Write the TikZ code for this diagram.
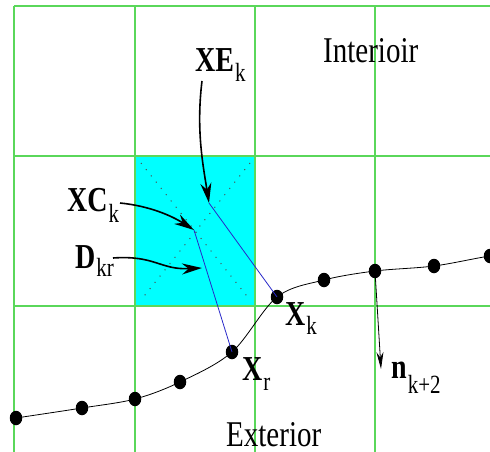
\documentclass[tikz,border=0pt]{standalone}
\usepackage{fontspec}
\setmainfont{Liberation Serif}
\usetikzlibrary{arrows.meta,shapes.geometric}
\newcommand\blbl[3]{\scalebox{1}[1.25]{\fontsize{28}{30}\selectfont\bfseries #1\kern1pt\raisebox{#3}{\fontsize{21}{24}\selectfont\mdseries #2}}}
\newcommand\rlbl[1]{\scalebox{1}[1.25]{\fontsize{29}{32}\selectfont #1}}
\definecolor{gridgreen}{RGB}{90,215,90}
\definecolor{linkblue}{RGB}{40,40,200}
\definecolor{cellcyan}{RGB}{0,255,255}
\tikzset{
  gridline/.style={gridgreen, line width=1.1pt},
  bead/.style={ellipse, fill=black, inner sep=0pt, minimum width=12.5pt, minimum height=14.5pt},
  lbl/.style={inner sep=0pt, anchor=base west},
  bigarrow/.style={line width=1.6pt, -{Stealth[length=20pt,width=11pt]}},
  normarrow/.style={line width=0.8pt, -{Stealth[length=17pt,width=7pt]}},
  blueline/.style={linkblue, line width=0.8pt},
  diag/.style={black!70, line width=1pt, dash pattern=on 1pt off 7pt},
}
\begin{document}
\begin{tikzpicture}[x=1pt,y=-1pt]
\useasboundingbox (0,0) rectangle (490,452);
\begin{scope}
\clip (0,0) rectangle (490,452);
% cyan cell
\fill[cellcyan] (135,156) rectangle (255,306);
\draw[diag] (141,163) -- (250,300);
\draw[diag] (250,163) -- (141,300);
% grid
\foreach \x in {14,135,255,375} \draw[gridline] (\x,6) -- (\x,452);
\foreach \y in {6,156,306} \draw[gridline] (14,\y) -- (490,\y);
% interface curve
\draw[line width=0.8pt] plot[smooth, tension=0.55] coordinates {(16,418) (82,408) (135,399) (180,382) (232,352) (277,297) (324,280) (375,271) (434,266) (490,256) (530,252)};
% beads
\node[bead] (b1) at (16,418) {};
\node[bead] (b2) at (82,408) {};
\node[bead] (b3) at (135,399) {};
\node[bead] (b4) at (180,382) {};
\node[bead] (xr) at (232,352) {};
\node[bead] (xk) at (277,297) {};
\node[bead] (b7) at (324,280) {};
\node[bead] (nk) at (375,271) {};
\node[bead] (b9) at (434,266) {};
\node[bead] (b10) at (490,256) {};
\end{scope}
% points in the cell
\coordinate (xe) at (209,203);
\coordinate (xc) at (194,230);
\coordinate (dd) at (202,268);
\draw[blueline] (xe) -- (xk.center);
\draw[blueline] (xc) -- (xr.center);
% labels
\node[lbl] (lxe) at (195,72) {\blbl{XE}{k}{-8pt}};
\node[lbl] (lxc) at (67,211) {\blbl{XC}{k}{-9pt}};
\node[lbl] (ld) at (75,268) {\blbl{D}{kr}{-7pt}};
\node[lbl] (lxk) at (285,325) {\blbl{X}{k}{-7.5pt}};
\node[lbl] (lxr) at (242,380) {\blbl{X}{r}{-8pt}};
\node[lbl] (ln) at (391,378) {\blbl{n}{k+2}{-12pt}};
\node[lbl] (lint) at (323,63) {\rlbl{Interioir}};
\node[lbl] (lext) at (226,446) {\rlbl{Exterior}};
% arrows
\coordinate (axe) at (202,81);
\coordinate (axc) at (120,203);
\coordinate (ad) at (113,258);
\coordinate (ntip) at (381,369);
\draw[bigarrow] (axe) .. controls (196,130) and (203,165) .. (xe);
\draw[bigarrow] (axc) .. controls (150,206) and (172,216) .. (xc);
\draw[bigarrow] (ad) .. controls (155,255) and (160,270) .. (dd);
\draw[normarrow] (nk.center) -- (ntip);
\end{tikzpicture}
\end{document}
